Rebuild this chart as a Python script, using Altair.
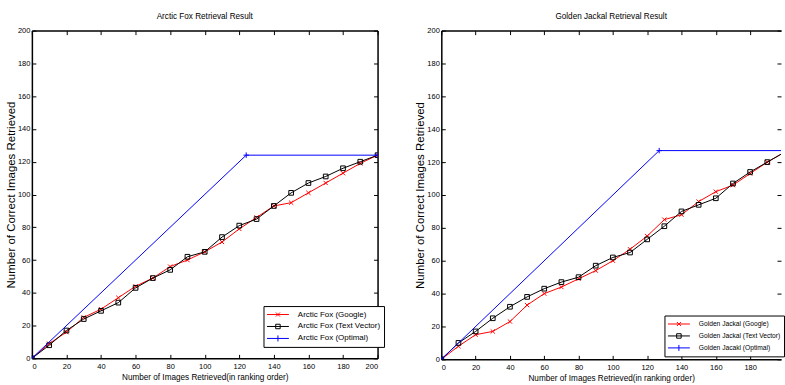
import altair as alt
import pandas as pd

# ---------------- data ----------------
x_steps = [0, 10, 20, 30, 40, 50, 60, 70, 80, 90, 100, 110, 120, 130, 140, 150, 160, 170, 180, 190, 200]

fox_names = ["Arctic Fox (Google)", "Arctic Fox (Text Vector)", "Arctic Fox (Optimal)"]
fox_google = [0, 9, 16, 25, 30, 37, 44, 49, 56, 60, 65, 71, 79, 86, 93, 95, 101, 107, 113, 119, 124]
fox_text = [0, 8, 17, 24, 29, 34, 43, 49, 54, 62, 65, 74, 81, 85, 93, 101, 107, 111, 116, 120, 124]
fox_opt_x = [0, 124, 200]
fox_opt_y = [0, 124, 124]

jackal_names = ["Golden Jackal (Google)", "Golden Jackal (Text Vector)", "Golden Jacakl (Optimal)"]
jackal_google = [0, 8, 15, 17, 23, 33, 40, 44, 49, 54, 60, 67, 75, 85, 88, 96, 102, 106, 113, 120, 126]
jackal_text = [0, 10, 17, 25, 32, 38, 43, 47, 50, 57, 62, 65, 73, 81, 90, 94, 98, 107, 114, 120, 126]
jackal_opt_x = [0, 127, 200]
jackal_opt_y = [0, 127, 127]

tick_values = [0, 20, 40, 60, 80, 100, 120, 140, 160, 180, 200]

# ---------------- style ----------------
FONT = "Liberation Sans, Arial"
COLORS = ["#ff0000", "#000000", "#0000ff"]
MARKERS = ["M-1,-1L1,1M-1,1L1,-1", "M-1,-1H1V1H-1Z", "M-1,0H1M0,-1V1"]
MARKER_SIZES = [18, 22, 30]
LEGEND_PATHS = [
    "M-2.2,0H2.2M-0.4,-0.4L0.4,0.4M-0.4,0.4L0.4,-0.4",
    "M-2.2,0H2.2M-0.45,-0.45H0.45V0.45H-0.45Z",
    "M-2.2,0H2.2M0,-0.6V0.6",
]
FRAME_W = 1.5
INWARD = alt.expr("-4")


def tick_axis(orient, values, frame):
    return alt.Axis(orient=orient, values=values, ticks=True, tickSize=INWARD, tickColor="black",
                    tickWidth=1, labels=False, domain=frame, domainColor="black",
                    domainWidth=FRAME_W, grid=False, title=None, minExtent=0, maxExtent=0)


def panel(title, names, xs_list, ys_list, W, H, xmax, right_frame,
          title_offset, leg_x, leg_y, leg_font):
    rows = []
    for name, xs, ys in zip(names, xs_list, ys_list):
        for a, b in zip(xs, ys):
            rows.append({"series": name, "x": a, "y": b})
    df = pd.DataFrame(rows)
    xscale = alt.Scale(domain=[0, xmax], nice=False)
    yscale = alt.Scale(domain=[0, 200], nice=False)
    xt = [t for t in tick_values if t <= xmax]

    x_axes = [
        alt.Axis(orient="bottom", values=xt, ticks=False, tickSize=0, grid=False,
                 domain=True, domainColor="black", domainWidth=FRAME_W, minExtent=0,
                 labelFont=FONT, labelFontSize=7.5, labelColor="black", labelPadding=4,
                 title="Number of Images Retrieved(in ranking order)", titleFont=FONT,
                 titleFontSize=8.2, titleFontWeight="normal", titleColor="black", titlePadding=4),
        tick_axis("bottom", xt, False),
        tick_axis("top", xt, True),
    ]
    y_axes = [
        alt.Axis(orient="left", values=tick_values, ticks=False, tickSize=0, grid=False,
                 domain=True, domainColor="black", domainWidth=FRAME_W, minExtent=0,
                 labelFont=FONT, labelFontSize=7.5, labelColor="black", labelPadding=2,
                 title="Number of Correct Images Retrieved", titleFont=FONT, titleFontSize=11.5,
                 titleFontWeight="normal", titleColor="black", titlePadding=1),
        tick_axis("left", tick_values, False),
        tick_axis("right", tick_values, right_frame),
    ]

    layers = []
    for i, name in enumerate(names):
        sub = alt.Chart(df).transform_filter(alt.datum.series == name)
        line = sub.mark_line(color=COLORS[i], strokeWidth=1, clip=True).encode(
            x=alt.X("x:Q", scale=xscale, axis=x_axes[i]),
            y=alt.Y("y:Q", scale=yscale, axis=y_axes[i]),
        )
        pts = sub.mark_point(shape=MARKERS[i], size=MARKER_SIZES[i], filled=False,
                             color=COLORS[i], strokeWidth=1, opacity=1, clip=True).encode(
            x=alt.X("x:Q", scale=xscale, axis=None),
            y=alt.Y("y:Q", scale=yscale, axis=None),
        )
        layers += [line, pts]

    leg = alt.Legend(orient="none", legendX=leg_x, legendY=leg_y, title=None,
                     strokeColor="black", fillColor="white", padding=3,
                     labelFont=FONT, labelFontSize=leg_font, labelColor="black",
                     symbolSize=100, symbolStrokeWidth=1, symbolOpacity=1,
                     symbolOffset=6, labelOffset=14.5, rowPadding=2)
    legend_layer = alt.Chart(df).transform_filter("false").mark_point(filled=False).encode(
        x=alt.X("x:Q", scale=xscale, axis=None),
        y=alt.Y("y:Q", scale=yscale, axis=None),
        color=alt.Color("series:N", scale=alt.Scale(domain=names, range=COLORS), legend=leg),
        shape=alt.Shape("series:N", scale=alt.Scale(domain=names, range=LEGEND_PATHS), legend=leg),
    )
    layers.append(legend_layer)

    ch = alt.layer(*layers).resolve_axis(x="independent", y="independent").properties(
        width=W, height=H,
        title=alt.TitleParams(title, font=FONT, fontSize=8.2, fontWeight="normal", color="black",
                              offset=title_offset, anchor="middle"),
    )
    return ch


left = panel("Arctic Fox Retrieval Result", fox_names,
             [x_steps, x_steps, fox_opt_x], [fox_google, fox_text, fox_opt_y],
             347, 329, 200, True, 5, 232.5, 276.5, 8)
right = panel("Golden Jackal Retrieval Result", jackal_names,
              [x_steps, x_steps, jackal_opt_x], [jackal_google, jackal_text, jackal_opt_y],
              341, 330, 198, False, 5, 224, 286, 6.7)

chart = alt.hconcat(left, right, spacing=30).resolve_scale(
    color="independent", shape="independent"
).resolve_legend(color="independent", shape="independent").properties(
    padding={"left": 5, "top": 11, "right": 0, "bottom": 0},
    background="white",
).configure_view(strokeWidth=0)

chart.save("out.html", embed_options={"renderer": "svg", "actions": False})
